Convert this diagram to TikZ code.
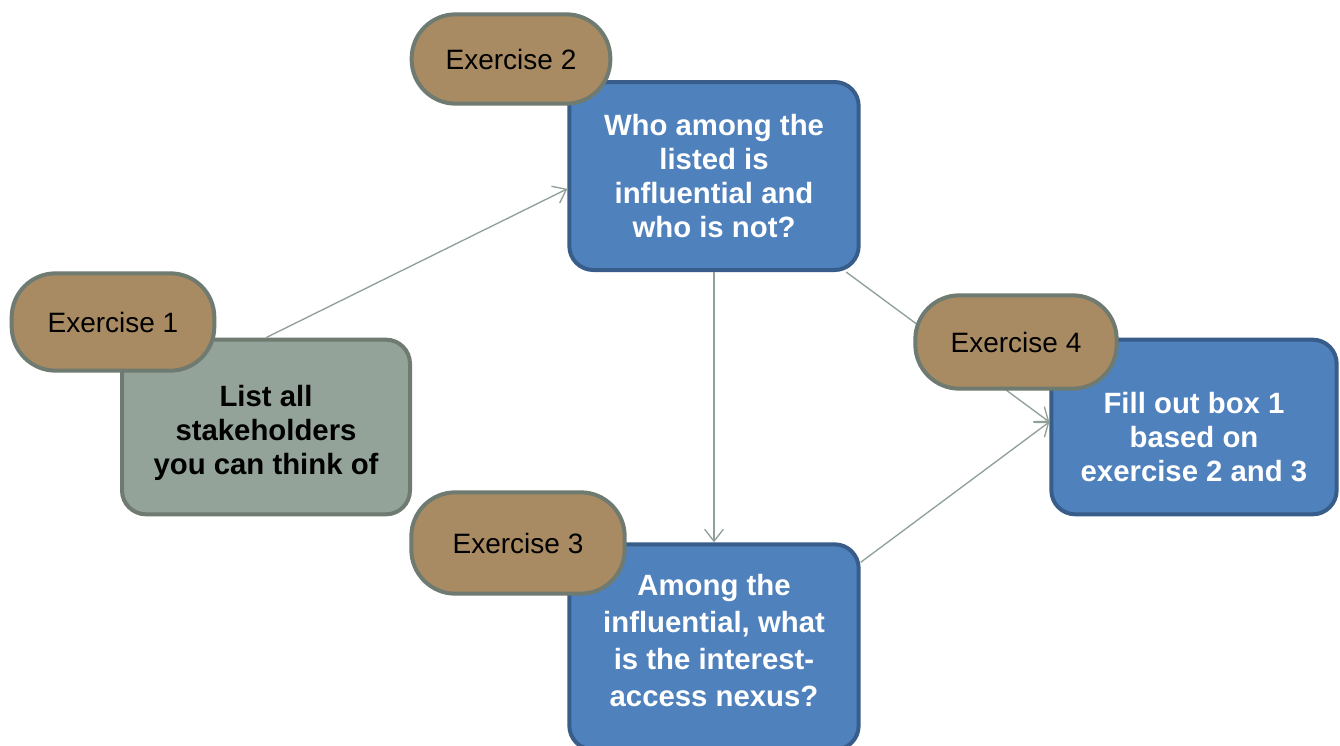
\documentclass[tikz,border=0pt]{standalone}
\usepackage{fontspec}
\setmainfont{Liberation Sans}
\usetikzlibrary{arrows.meta}
\definecolor{tagtan}{RGB}{169,139,99}
\definecolor{tagedge}{RGB}{111,122,112}
\definecolor{sagegray}{RGB}{148,163,154}
\definecolor{stepblue}{RGB}{79,129,189}
\definecolor{stepedge}{RGB}{56,93,138}
\definecolor{linkgray}{RGB}{143,160,150}
% invisible struts to nudge the text block inside a box
\newcommand{\uplift}[1]{\rule{0pt}{#1}}
\newcommand{\downpad}[1]{\rule[-#1]{0pt}{#1}}

\begin{document}
\begin{tikzpicture}[x=0.75pt,y=-0.75pt,
    tag/.style={draw=tagedge, fill=tagtan, line width=3pt, rounded corners=33pt,
        font=\fontsize{21}{25}\selectfont},
    task/.style={draw=stepedge, fill=stepblue, line width=3pt, rounded corners=18pt,
        text=white, align=center, font=\fontsize{22}{25.5}\selectfont\bfseries},
    link/.style={draw=linkgray, line width=1pt, -{Straight Barb[length=9pt,width=14pt]}}]
    \useasboundingbox (0,0) rectangle (1340,746);

    % step boxes
    \node[task, draw=tagedge, fill=sagegray, text=black, minimum width=216pt, minimum height=131pt]
        (list) at (266,427) {\uplift{25pt}List all\\stakeholders\\you can think of};
    \node[task, minimum width=217pt, minimum height=141pt]
        (influence) at (714,176) {Who among the\\listed is\\influential and\\who is not?};
    \node[task, minimum width=217pt, minimum height=154pt, font=\fontsize{22}{27.7}\selectfont\bfseries]
        (nexus) at (714,647) {Among the\\influential, what\\is the interest-\\access nexus?\downpad{10pt}};
    \node[task, minimum width=214pt, minimum height=131pt]
        (fill) at (1194,427) {\uplift{31pt}Fill out box 1\\based on\\exercise 2 and 3};

    \draw[link] (list.north) -- (influence.185);
    \draw[link] (influence.south) -- (nexus.north);
    \draw[link] (influence.-36) -- (fill.178);
    \draw[link] (nexus.30) -- (fill.178);

    % exercise tags
    \node[tag, minimum width=152pt, minimum height=73pt] (ex1) at (113,322) {Exercise 1};
    \node[tag, minimum width=149pt, minimum height=67pt] (ex2) at (511,59) {Exercise 2};
    \node[tag, minimum width=160pt, minimum height=76pt] (ex3) at (518,543) {Exercise 3};
    \node[tag, minimum width=151pt, minimum height=70pt] (ex4) at (1016,342) {Exercise 4};
\end{tikzpicture}
\end{document}
